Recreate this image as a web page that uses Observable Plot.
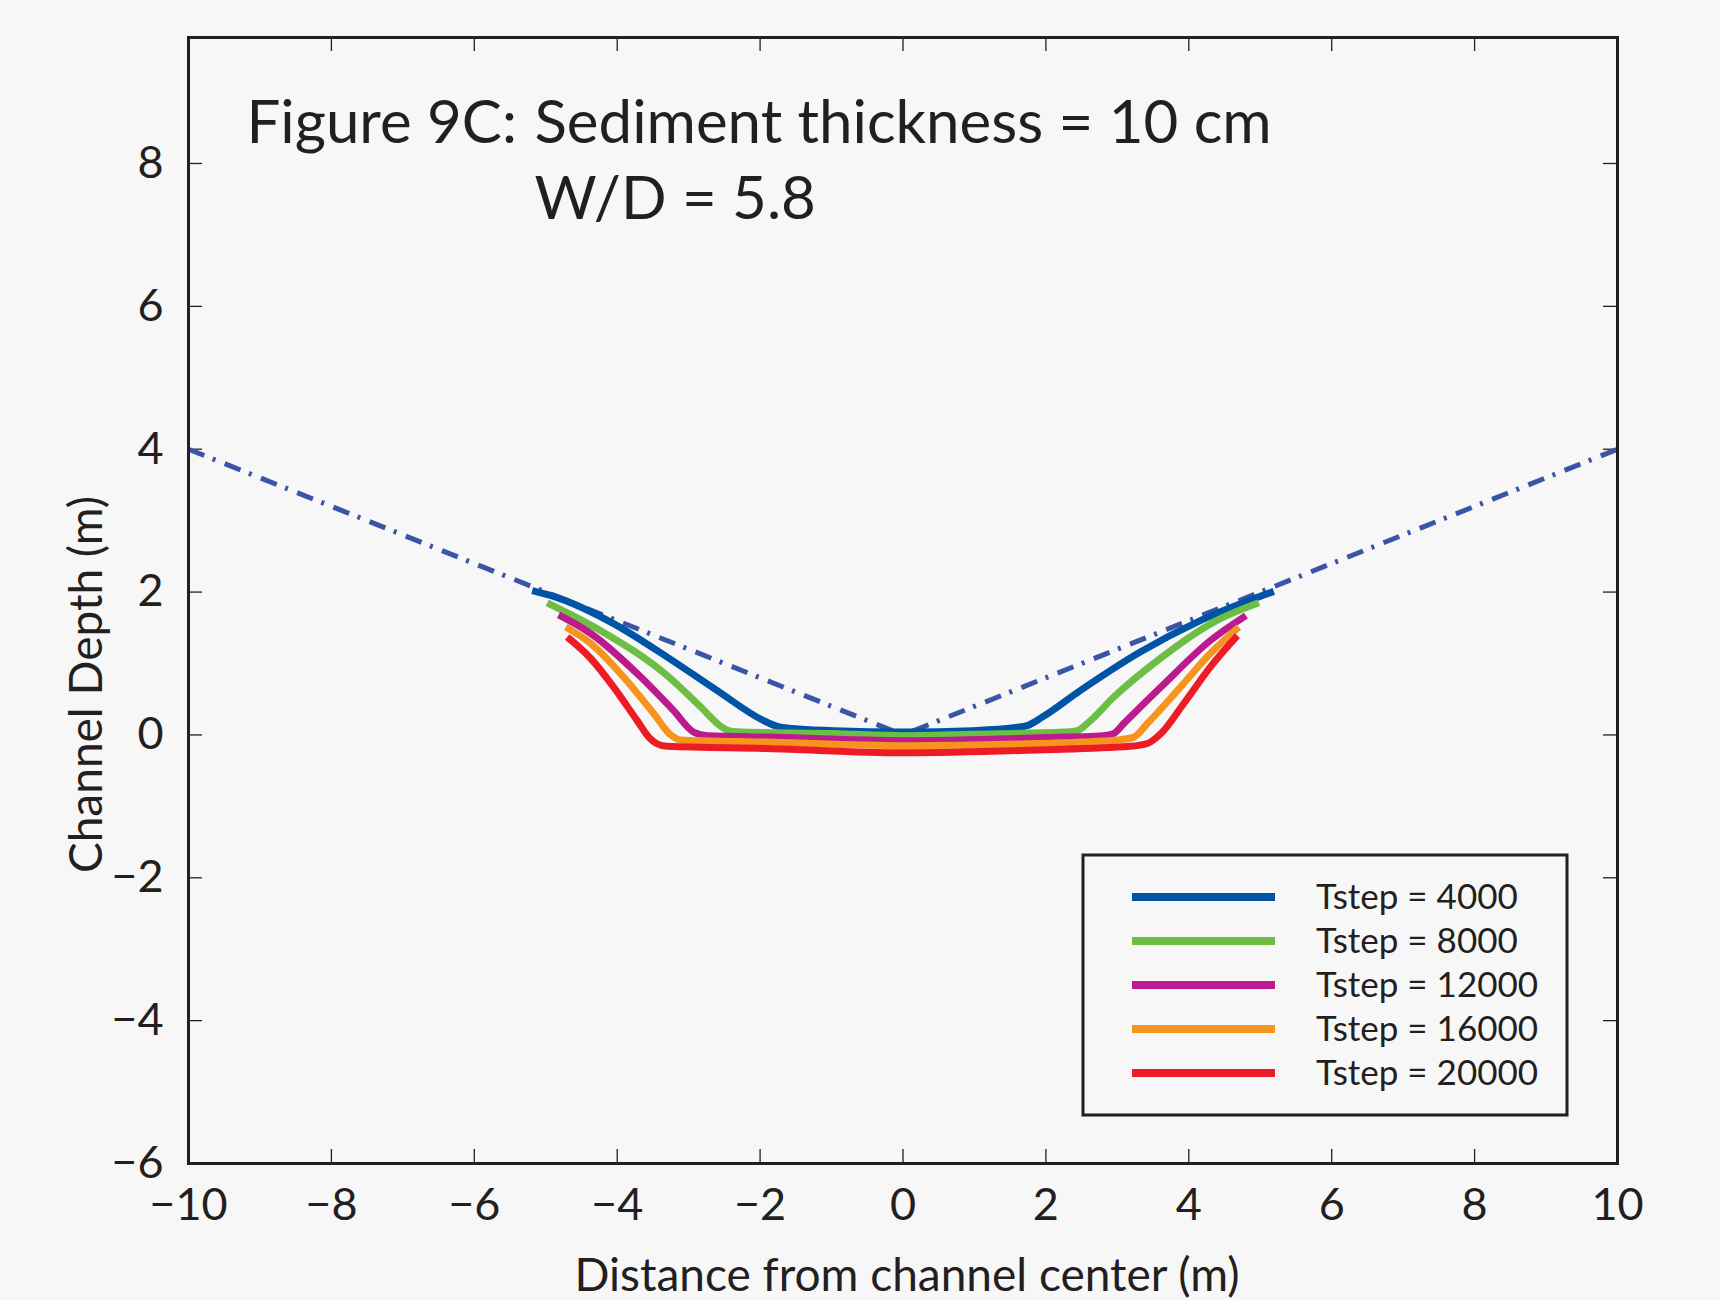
<!DOCTYPE html>
<html>
<head>
<meta charset="utf-8">
<script src="https://cdn.jsdelivr.net/npm/d3@7"></script>
<script src="https://cdn.jsdelivr.net/npm/@observablehq/plot@0.6"></script>
<style>
  html, body { margin: 0; padding: 0; background: #f7f7f7; }
  svg { display: block; }
</style>
</head>
<body>
<div id="chart"></div>
<script>
// ---- Data ----
const xTicks = [-10, -8, -6, -4, -2, 0, 2, 4, 6, 8, 10];
const yTicks = [-6, -4, -2, 0, 2, 4, 6, 8];

// initial channel outline (dash-dot)
const refX = [-10, 0, 10];
const refY = [4, 0, 4];

const seriesNames = ["Tstep = 4000", "Tstep = 8000", "Tstep = 12000", "Tstep = 16000", "Tstep = 20000"];
const seriesColors = ["#0054a6", "#6cbe45", "#bc1b8d", "#f7941d", "#ed1c24"];

const t4000 = [[-5.19,2.02],[-4.89,1.94],[-4.09,1.58],[-3.30,1.09],[-2.60,0.62],[-1.95,0.20],[-1.76,0.12],[-1.55,0.09],[-0.97,0.06],[0,0.04],[0.97,0.06],[1.55,0.10],[1.74,0.13],[1.95,0.25],[2.48,0.62],[3.32,1.16],[4.16,1.60],[5.19,2.01]];
const t8000 = [[-4.98,1.85],[-4.23,1.46],[-3.30,0.83],[-2.83,0.39],[-2.55,0.12],[-2.44,0.06],[-2.25,0.04],[-0.97,0.02],[0,-0.01],[0.97,0.01],[2.25,0.04],[2.44,0.06],[2.60,0.18],[2.95,0.53],[3.56,1.04],[4.35,1.58],[4.98,1.85]];
const t12000 = [[-4.82,1.68],[-4.37,1.42],[-3.67,0.81],[-3.21,0.34],[-2.93,0.04],[-2.74,-0.01],[-1.90,-0.03],[0,-0.08],[1.90,-0.04],[2.80,-0.01],[2.95,0.02],[3.09,0.16],[3.61,0.67],[4.30,1.32],[4.80,1.67]];
const t16000 = [[-4.72,1.51],[-4.37,1.28],[-3.91,0.81],[-3.49,0.30],[-3.25,0.00],[-3.11,-0.07],[-1.90,-0.10],[0,-0.15],[1.90,-0.12],[3.00,-0.07],[3.23,-0.03],[3.42,0.16],[3.84,0.62],[4.30,1.14],[4.70,1.51]];
const t20000 = [[-4.70,1.37],[-4.37,1.07],[-4.05,0.67],[-3.72,0.20],[-3.55,-0.04],[-3.45,-0.12],[-3.30,-0.16],[-1.90,-0.19],[0,-0.25],[1.90,-0.21],[3.18,-0.16],[3.42,-0.12],[3.61,0.02],[3.93,0.44],[4.30,0.95],[4.68,1.39]];

const titleLine1a = "Figure 9C:";
const titleLine1b = "Sediment thickness = 10 cm";
const titleLine2 = "W/D = 5.8";
const xLabel = "Distance from channel center (m)";
const yLabel = "Channel Depth (m)";

// ---- Build tables ----
const refData = refX.map((x, i) => ({x, y: refY[i]}));
const allSeries = [t4000, t8000, t12000, t16000, t20000];
const lineData = allSeries.flatMap((pts, k) => pts.map(([x, y]) => ({x, y, s: seriesNames[k]})));

const W = 1720, H = 1300;
const mL = 188, mR = 103, mT = 37, mB = 137;
const fw = W - mL - mR, fh = H - mT - mB;
const tick = 14;
const ink = "#231f20";
const font = "Lato, 'Open Sans', sans-serif";
const fmt = d3.format("d");

const plot = Plot.plot({
  width: W, height: H,
  marginLeft: mL, marginRight: mR, marginTop: mT, marginBottom: mB,
  style: {background: "#f7f7f7", fontFamily: font, color: ink},
  x: {domain: [-10, 10]},
  y: {domain: [-6, 9.764]},
  color: {domain: seriesNames, range: seriesColors},
  marks: [
    // inward ticks on all four sides
    Plot.tickX(xTicks, {x: d => d, insetTop: fh - tick, stroke: ink, strokeWidth: 1.3}),
    Plot.tickX(xTicks, {x: d => d, insetBottom: fh - tick, stroke: ink, strokeWidth: 1.3}),
    Plot.tickY(yTicks, {y: d => d, insetRight: fw - tick, stroke: ink, strokeWidth: 1.3}),
    Plot.tickY(yTicks, {y: d => d, insetLeft: fw - tick, stroke: ink, strokeWidth: 1.3}),
    Plot.axisX(xTicks, {tickSize: 0, tickPadding: 25, fontSize: 45, label: null, fill: ink, tickFormat: fmt}),
    Plot.axisY(yTicks, {tickSize: 0, tickPadding: 25, fontSize: 45, label: null, fill: ink, tickFormat: fmt}),
    // reference dash-dot outline
    Plot.line(refData, {x: "x", y: "y", stroke: "#3b55a6", strokeWidth: 5, strokeDasharray: "17,9,3,10", strokeLinecap: "butt"}),
    // simulated profiles
    Plot.line(lineData, {x: "x", y: "y", z: "s", stroke: "s", strokeWidth: 7, strokeLinecap: "butt", strokeLinejoin: "round", curve: "monotone-x"}),
    Plot.frame({stroke: ink, strokeWidth: 3}),
    // titles
    Plot.text([titleLine1a], {frameAnchor: "top-left", dx: 58, dy: 105, lineAnchor: "bottom", textAnchor: "start", fontSize: 60, fill: ink}),
    Plot.text([titleLine1b], {frameAnchor: "top-left", dx: 346, dy: 105, lineAnchor: "bottom", textAnchor: "start", fontSize: 60, fill: ink}),
    Plot.text([titleLine2], {frameAnchor: "top-left", dx: 346, dy: 181, lineAnchor: "bottom", textAnchor: "start", fontSize: 60, fill: ink}),
    // axis labels
    Plot.text([xLabel], {frameAnchor: "bottom", dx: 4, dy: 127, lineAnchor: "bottom", textAnchor: "middle", fontSize: 46, fill: ink}),
    Plot.text([yLabel], {frameAnchor: "left", dx: -87, dy: 84, rotate: -90, lineAnchor: "bottom", textAnchor: "middle", fontSize: 46, fill: ink})
  ]
});

// ---- Legend (inside frame, lower right) ----
const svg = d3.select(plot);
const lg = svg.append("g").attr("font-family", font).attr("text-anchor", "start");
lg.append("rect").attr("x", 1083).attr("y", 855).attr("width", 484).attr("height", 260)
  .attr("fill", "#f7f7f7").attr("stroke", ink).attr("stroke-width", 3);
seriesNames.forEach((name, i) => {
  const yy = 897 + 44 * i;
  lg.append("line").attr("x1", 1132).attr("x2", 1275).attr("y1", yy).attr("y2", yy)
    .attr("stroke", seriesColors[i]).attr("stroke-width", 8);
  lg.append("text").attr("x", 1316).attr("y", yy + 12).attr("font-size", 35).attr("fill", ink)
    .attr("text-anchor", "start").text(name);
});

document.getElementById("chart").appendChild(plot);
</script>
</body>
</html>
